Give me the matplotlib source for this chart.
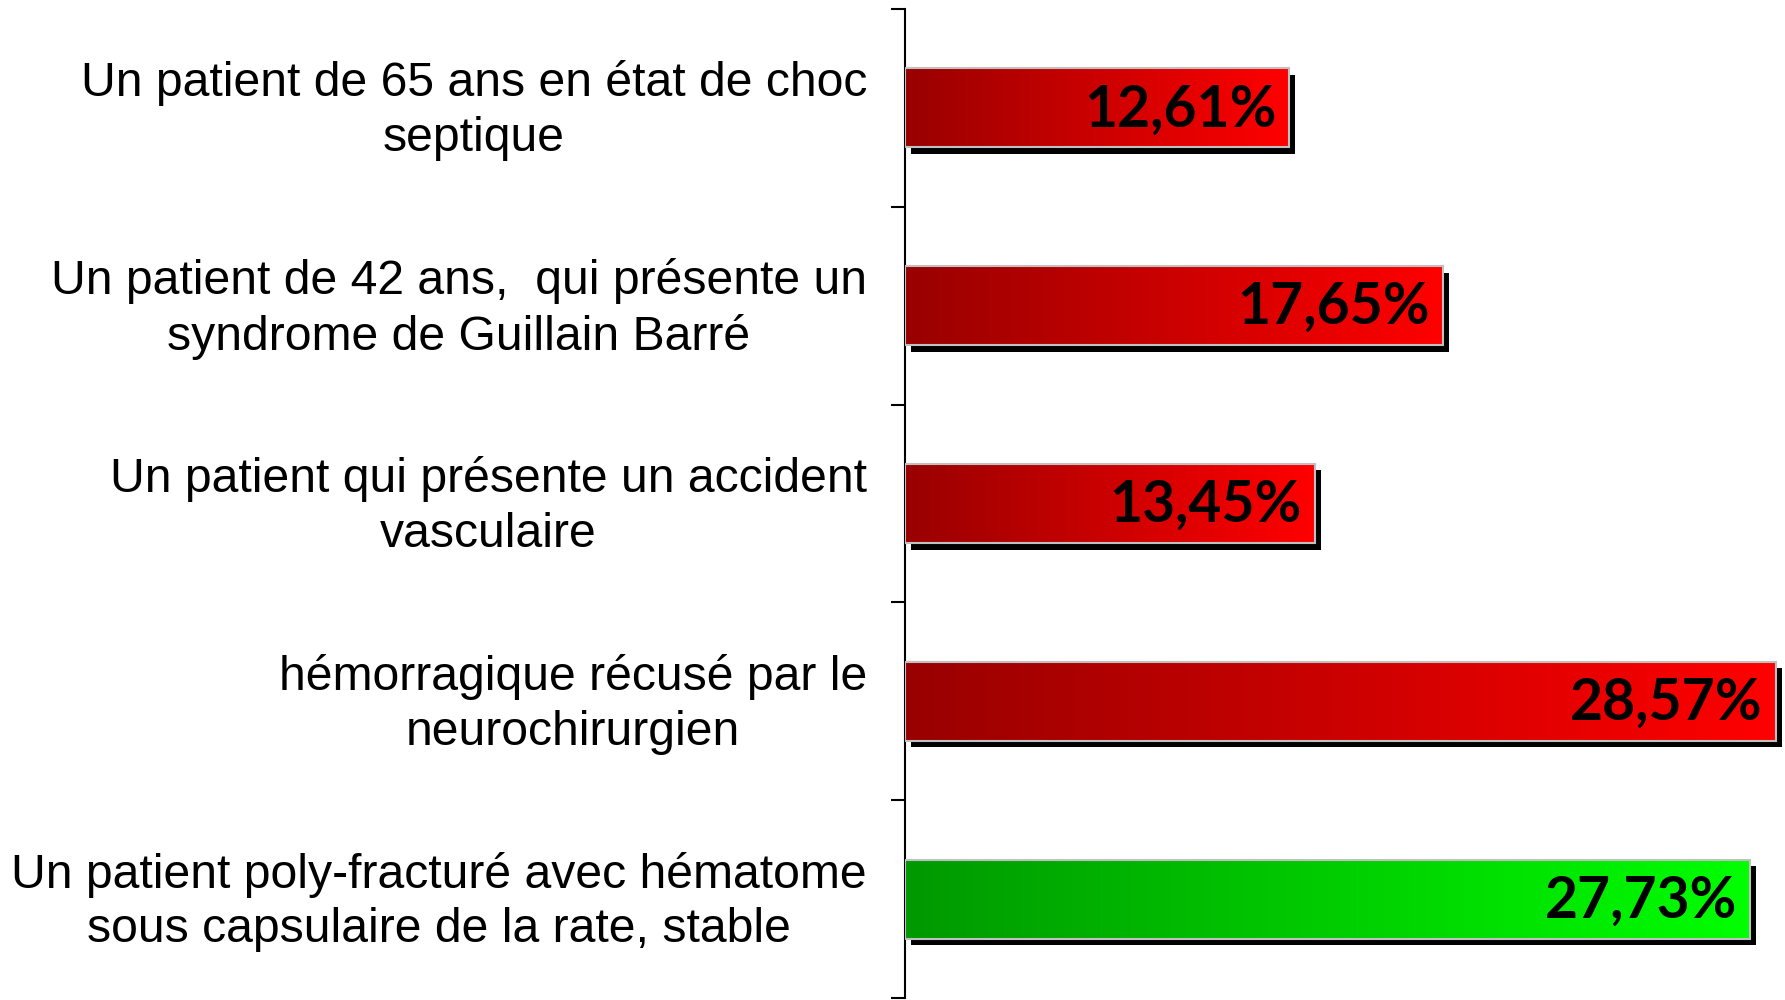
import numpy as np
import matplotlib
matplotlib.use("Agg")
import matplotlib.pyplot as plt
from matplotlib.colors import LinearSegmentedColormap
from matplotlib.transforms import ScaledTranslation, blended_transform_factory

categories = [
    "Un patient de 65 ans en état de choc\nseptique",
    "Un patient de 42 ans,  qui présente un\nsyndrome de Guillain Barré",
    "Un patient qui présente un accident\nvasculaire",
    "hémorragique récusé par le\nneurochirurgien",
    "Un patient poly-fracturé avec hématome\nsous capsulaire de la rate, stable",
]
values = [12.61, 17.65, 13.45, 28.57, 27.73]
value_labels = ["12,61%", "17,65%", "13,45%", "28,57%", "27,73%"]
highlight = [False, False, False, False, True]

red_cmap = LinearSegmentedColormap.from_list("r", ["#990000", "#ff0000"])
green_cmap = LinearSegmentedColormap.from_list("g", ["#009900", "#00ff00"])

fig = plt.figure(figsize=(17.85, 10), dpi=100)
ax = fig.add_axes([905 / 1785, 0.002, 880 / 1785, 0.989])

n = len(values)
y = np.arange(n)
h = 0.40
xmax = 28.88

# shadows
shadow_tr = ax.transData + ScaledTranslation(0.06, -0.065, fig.dpi_scale_trans)
ax.barh(y, values, height=h, color="black", transform=shadow_tr, zorder=1)

# bars with gradient fill
bars = ax.barh(y, values, height=h, color="none", edgecolor="#c0c0c0", linewidth=1.5, zorder=4)
grad = np.linspace(0, 1, 256).reshape(1, -1)
for i, (b, v) in enumerate(zip(bars, values)):
    cmap = green_cmap if highlight[i] else red_cmap
    im = ax.imshow(grad, extent=[0, v, y[i] + h / 2, y[i] - h / 2], aspect="auto",
                   cmap=cmap, zorder=3, interpolation="bilinear")
    im.set_clip_path(b)
    ax.text(v - 0.42, y[i] + 0.01, value_labels[i], ha="right", va="center",
            fontsize=41, fontweight="bold", family="Lato", color="black", zorder=5)

ax.set_ylim(n - 0.5, -0.5)
ax.set_xlim(0, xmax)

# axis styling
for s in ["top", "right", "bottom"]:
    ax.spines[s].set_visible(False)
ax.spines["left"].set_linewidth(1.5)
ax.set_xticks([])
ax.set_yticks(np.arange(-0.5, n, 1.0))
ax.set_yticklabels([])
ax.tick_params(axis="y", which="major", direction="out", length=10, width=1.5)

# category labels
label_tr = blended_transform_factory(ax.transAxes, ax.transData) + \
    ScaledTranslation(-38 / 100, -0.03, fig.dpi_scale_trans)
for i, lab in enumerate(categories):
    ax.text(0, y[i], lab, transform=label_tr, ha="right", va="center",
            multialignment="center", linespacing=1.28,
            fontsize=34.7, family="Liberation Sans", color="black", clip_on=False)

fig.savefig("out.png", dpi=100)
